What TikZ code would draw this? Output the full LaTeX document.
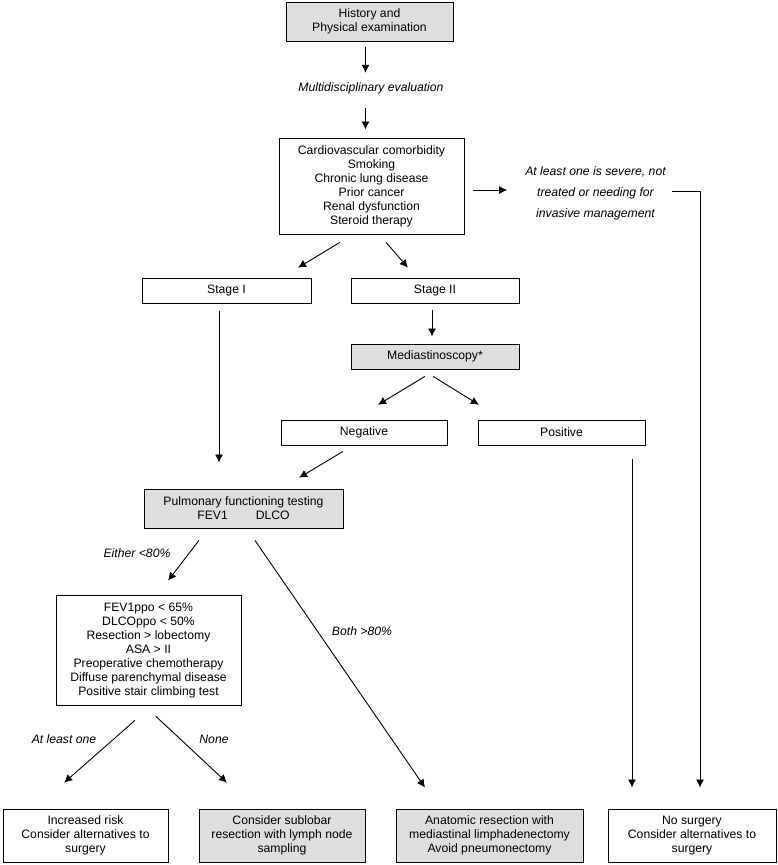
\documentclass[tikz,border=0pt]{standalone}
\usepackage{fontspec}
\setmainfont{Liberation Sans}
\usetikzlibrary{arrows.meta, positioning}
\definecolor{boxgray}{gray}{0.87}

\begin{document}
\begin{tikzpicture}[x=1pt, y=-1pt,
        font=\fontsize{12.2}{14}\selectfont,
        box/.style={draw, line width=1pt, align=center, inner sep=0pt, minimum height=25pt},
        greybox/.style={box, fill=boxgray},
        note/.style={font=\fontsize{12.2}{14}\selectfont\itshape, align=center, inner sep=0pt},
        arr/.style={-{Latex[length=8pt, width=8pt]}, line width=0.9pt}]
        \useasboundingbox (0,0) rectangle (777,865);

        % top part
        \node[greybox, minimum width=167pt, minimum height=39pt] (hist) at (369.5,21.5) {History and\\Physical examination};
        \node[note, minimum height=20pt] (multi) at (371,88) {Multidisciplinary evaluation};
        \node[box, minimum width=185pt, minimum height=96pt] (risk) at (371.5,186) {Cardiovascular comorbidity\\Smoking\\Chronic lung disease\\Prior cancer\\Renal dysfunction\\Steroid therapy};
        \node[note, font=\fontsize{12.2}{21}\selectfont\itshape] (severe) at (595.5,193) {At least one is severe, not\\treated or needing for\\invasive management};

        % staging
        \node[box, minimum width=169pt] (stage1) at (226.5,290.5) {Stage I};
        \node[box, minimum width=168pt] (stage2) at (435,290.5) {Stage II};
        \node[greybox, minimum width=168pt] (medias) at (435,356.5) {Mediastinoscopy*};
        \node[box, minimum width=166pt] (neg) at (364,432.5) {Negative};
        \node[box, minimum width=167pt] (pos) at (561.5,432.5) {Positive};

        % function tests
        \node[greybox, minimum width=199pt, minimum height=39pt] (pft) at (243.5,508.5) {Pulmonary functioning testing\\FEV1\hspace{28pt}DLCO};
        \node[box, minimum width=185pt, minimum height=110pt] (fev) at (148.5,650) {FEV1ppo < 65\%\\DLCOppo < 50\%\\Resection > lobectomy\\ASA > II\\Preoperative chemotherapy\\Diffuse parenchymal disease\\Positive stair climbing test};

        % outcomes
        \node[box, minimum width=165pt, minimum height=53pt] (incr) at (85.5,835.5) {Increased risk\\Consider alternatives to\\surgery};
        \node[greybox, minimum width=166pt, minimum height=53pt] (sublob) at (282,835.5) {Consider sublobar\\resection with lymph node\\sampling};
        \node[greybox, minimum width=187pt, minimum height=53pt] (anat) at (489.5,835.5) {Anatomic resection with\\mediastinal limphadenectomy\\Avoid pneumonectomy};
        \node[box, minimum width=168pt, minimum height=53pt] (nosurg) at (692,835.5) {No surgery\\Consider alternatives to\\surgery};

        % labels
        \node[note] (either) at (137,553) {Either <80\%};
        \node[note] (both) at (362,631) {Both >80\%};
        \node[note] (atleast) at (64,739) {At least one};
        \node[note] (none) at (214,739) {None};

        % arrows
        \draw[arr, shorten <=5pt, shorten >=5pt] ([xshift=-4pt]hist.south) -- ([xshift=-4pt]hist.south |- multi.north);
        \draw[arr, shorten <=10pt, shorten >=8pt] ([xshift=-5.5pt]multi.south) -- ([xshift=-5.5pt]multi.south |- risk.north);
        \draw[arr, shorten <=8pt, shorten >=18pt] ([yshift=-4pt]risk.east) -- ([yshift=-4pt]risk.east -| severe.west);
        \draw[arr, shorten <=6pt, shorten >=21pt] ([yshift=2pt]severe.east) -| ([xshift=8pt]nosurg.north);
        \draw[arr, shorten <=15.2pt, shorten >=19pt] ([xshift=-18.6pt]risk.south) -- ([xshift=55.3pt]stage1.north);
        \draw[arr, shorten <=10.5pt, shorten >=13.1pt] ([xshift=7.7pt]risk.south) -- ([xshift=-18.5pt]stage2.north);
        \draw[arr, shorten <=6pt, shorten >=7pt] ([xshift=-3pt]stage2.south) -- ([xshift=-3pt]stage2.south |- medias.north);
        \draw[arr, shorten <=13.3pt, shorten >=28.5pt] ([xshift=1.3pt]medias.south) -- ([xshift=-10.3pt]neg.north);
        \draw[arr, shorten <=13.1pt, shorten >=28.1pt] ([xshift=-13.1pt]medias.south) -- ([xshift=-58.7pt]pos.north);
        \draw[arr, shorten <=7pt, shorten >=26pt] ([xshift=-7.5pt]stage1.south) -- ([xshift=-7.5pt]stage1.south |- pft.north);
        \draw[arr, shorten <=11.5pt, shorten >=21pt] ([xshift=-11.2pt]neg.south) -- ([xshift=37.6pt]pft.north);
        \draw[arr, shorten <=13pt, shorten >=21pt] ([xshift=70.5pt]pos.south) -- ([xshift=70.5pt]pos.south |- nosurg.north);
        \draw[arr, shorten <=15pt, shorten >=17.6pt] ([xshift=-35.4pt]pft.south) -- ([xshift=8.9pt]fev.north);
        \draw[arr, shorten <=14.6pt, shorten >=25.5pt] ([xshift=3.3pt]pft.south) -- ([xshift=-50.1pt]anat.north);
        \draw[arr, shorten <=22.6pt, shorten >=39.2pt] ([xshift=3.4pt]fev.south) -- ([xshift=-50.8pt]incr.north);
        \draw[arr, shorten <=16pt, shorten >=37.9pt] ([xshift=-4.2pt]fev.south) -- ([xshift=-27.4pt]sublob.north);
\end{tikzpicture}
\end{document}
